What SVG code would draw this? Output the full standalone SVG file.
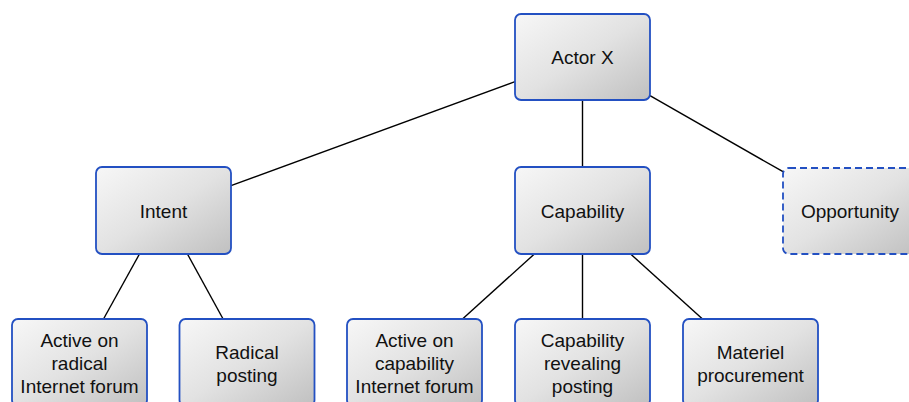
<svg xmlns="http://www.w3.org/2000/svg" width="909" height="402" viewBox="0 0 909 402">
  <defs>
    <linearGradient id="g" x1="0" y1="0" x2="1" y2="1">
      <stop offset="0" stop-color="#f7f7f7"/>
      <stop offset="0.5" stop-color="#e2e2e2"/>
      <stop offset="1" stop-color="#c0c0c0"/>
    </linearGradient>
  </defs>
  <style>
    .box { fill: url(#g); stroke: #2350c2; stroke-width: 1.8; }
    .dash { stroke-dasharray: 7 4; }
    .lbl { font-family: "Liberation Sans", Arial, Helvetica, sans-serif; font-size: 19px; fill: #111; text-anchor: middle; }
    .conn line { stroke: #000; stroke-width: 1.4; }
  </style>
  <rect width="909" height="402" fill="#fff"/>
  <g id="connectors" class="conn">
    <line x1="515" y1="81.7" x2="231" y2="185.6"/>
    <line x1="582.5" y1="100" x2="582.5" y2="167"/>
    <line x1="650" y1="95.6" x2="783" y2="171.7"/>
    <line x1="139.5" y1="254" x2="103.5" y2="319"/>
    <line x1="187.4" y1="254" x2="223.1" y2="319"/>
    <line x1="534.4" y1="254" x2="462.5" y2="319"/>
    <line x1="582.5" y1="254" x2="582.5" y2="319"/>
    <line x1="630.6" y1="254" x2="702.5" y2="319"/>
  </g>
  <g id="actor-x">
    <rect class="box" x="515" y="14" width="135" height="86" rx="6"/>
    <text class="lbl" x="582.5" y="64">Actor X</text>
  </g>
  <g id="intent">
    <rect class="box" x="96" y="167" width="135" height="87" rx="6"/>
    <text class="lbl" x="163.5" y="217.5">Intent</text>
  </g>
  <g id="capability">
    <rect class="box" x="515" y="167" width="135" height="87" rx="6"/>
    <text class="lbl" x="582.5" y="217.5">Capability</text>
  </g>
  <g id="opportunity">
    <rect class="box dash" x="783" y="168" width="135" height="86" rx="6"/>
    <text class="lbl" x="850" y="217.5">Opportunity</text>
  </g>
  <g id="active-radical">
    <rect class="box" x="12" y="319" width="135" height="87" rx="6"/>
    <text class="lbl" x="79.5" y="346.5">Active on</text>
    <text class="lbl" x="79.5" y="370">radical</text>
    <text class="lbl" x="79.5" y="393">Internet forum</text>
  </g>
  <g id="radical-posting">
    <rect class="box" x="179.5" y="319" width="135" height="87" rx="6"/>
    <text class="lbl" x="247" y="358.5">Radical</text>
    <text class="lbl" x="247" y="381.5">posting</text>
  </g>
  <g id="active-capability">
    <rect class="box" x="347" y="319" width="135" height="87" rx="6"/>
    <text class="lbl" x="414.5" y="346.5">Active on</text>
    <text class="lbl" x="414.5" y="370">capability</text>
    <text class="lbl" x="414.5" y="393">Internet forum</text>
  </g>
  <g id="capability-posting">
    <rect class="box" x="515" y="319" width="135" height="87" rx="6"/>
    <text class="lbl" x="582.5" y="346.5">Capability</text>
    <text class="lbl" x="582.5" y="370">revealing</text>
    <text class="lbl" x="582.5" y="393">posting</text>
  </g>
  <g id="materiel">
    <rect class="box" x="683" y="319" width="135" height="87" rx="6"/>
    <text class="lbl" x="750.5" y="358.5">Materiel</text>
    <text class="lbl" x="750.5" y="381.5">procurement</text>
  </g>
</svg>
